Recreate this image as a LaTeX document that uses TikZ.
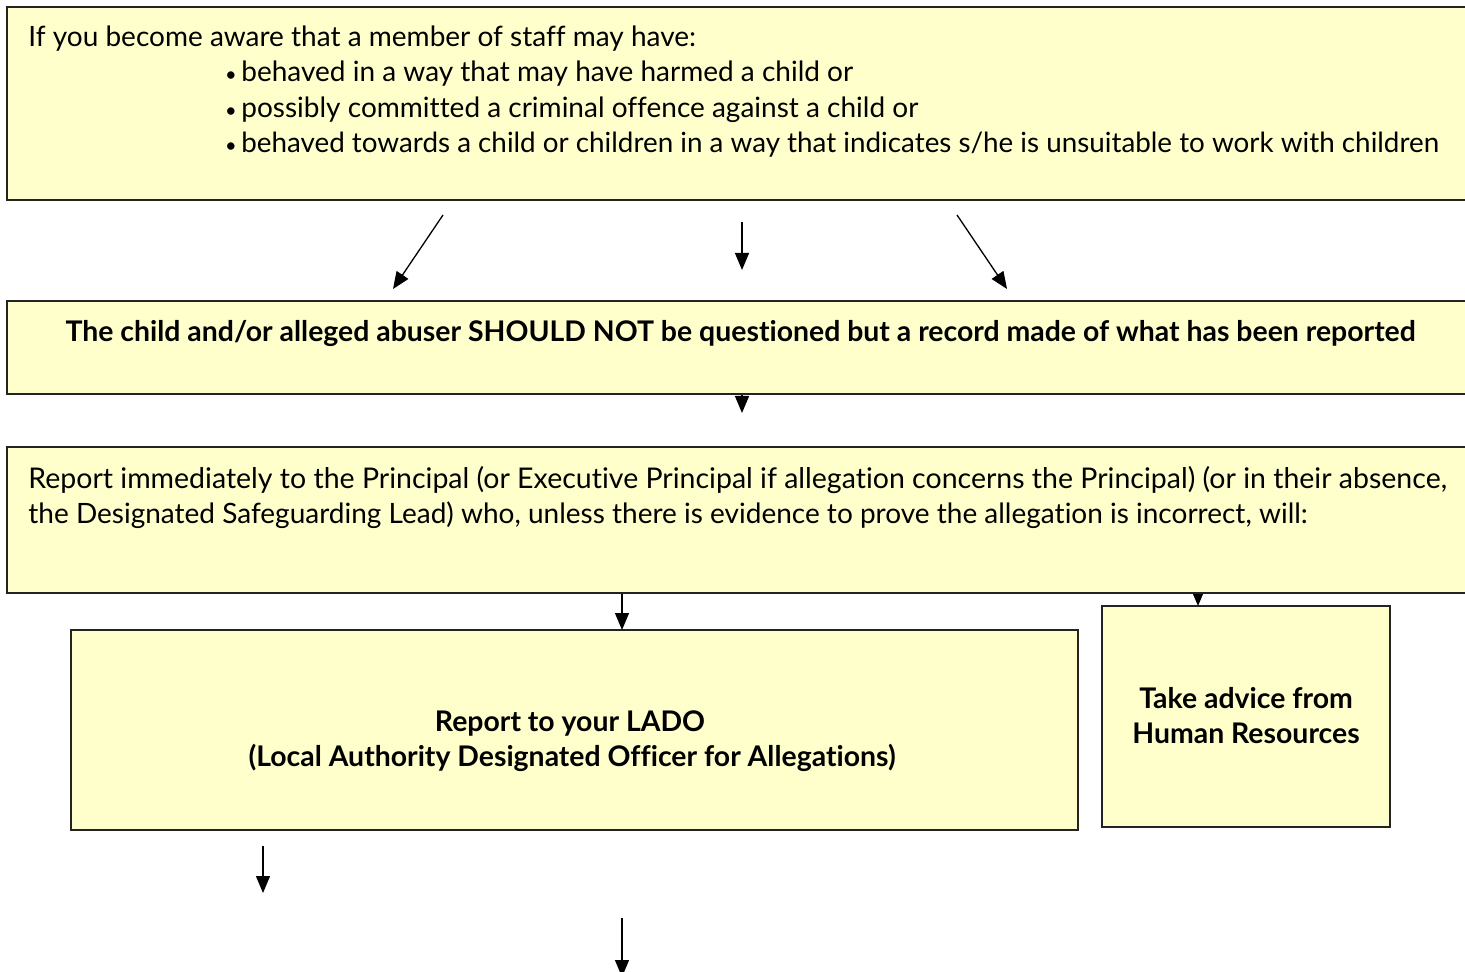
\documentclass[tikz,border=0pt]{standalone}
\usepackage{fontspec}
\setmainfont{Lato}[Ligatures=NoCommon]
\usetikzlibrary{arrows.meta}
\definecolor{boxfill}{RGB}{255,255,204}
\definecolor{boxline}{RGB}{35,35,35}
\begin{document}
\begin{tikzpicture}[x=0.5pt,y=-0.5pt,
  box/.style={draw=boxline, fill=boxfill, line width=0.9pt, inner sep=0pt, outer sep=0pt, anchor=north west},
  txt/.style={inner sep=0pt, font=\fontsize{14}{16}\selectfont},
  btxt/.style={inner sep=0pt, font=\fontsize{14.2}{16}\selectfont\bfseries},
  bul/.style={inner sep=0pt, font=\fontsize{10}{12}\selectfont},
  arr/.style={line width=0.65pt, -{Triangle[length=8.5pt,width=7pt]}}]
\useasboundingbox (0,0) rectangle (1465,972);
\clip (0,0) rectangle (1465,972);
% arrows drawn first so that boxes hide their ends
\coordinate (a1s) at (443,215); \coordinate (a1e) at (393,289);
\coordinate (a2s) at (742,222); \coordinate (a2e) at (742,270);
\coordinate (a3s) at (957,215); \coordinate (a3e) at (1007,289);
\coordinate (a4s) at (742,392); \coordinate (a4e) at (742,413);
\coordinate (a5s) at (622,591); \coordinate (a5e) at (622,630);
\coordinate (a6s) at (1198,588); \coordinate (a6e) at (1198,606);
\coordinate (a7s) at (263,846); \coordinate (a7e) at (263,893);
\coordinate (a8s) at (622,918); \coordinate (a8e) at (622,977);
\draw[arr] (a4s) -- (a4e);
\draw[arr] (a5s) -- (a5e);
\draw[arr] (a6s) -- (a6e);
% boxes
\node[box, minimum width=731.5pt, minimum height=96.5pt] (b1) at (7,7) {};
\node[box, minimum width=731.5pt, minimum height=46.5pt] (b2) at (7,301) {};
\node[box, minimum width=731.5pt, minimum height=73pt] (b3) at (7,447) {};
\node[box, minimum width=503.5pt, minimum height=100pt] (lado) at (71,630) {};
\node[box, minimum width=144pt, minimum height=110.5pt] (hr) at (1102,606) {};
% free-floating arrows
\draw[arr] (a1s) -- (a1e);
\draw[arr] (a2s) -- (a2e);
\draw[arr] (a3s) -- (a3e);
\draw[arr] (a7s) -- (a7e);
\draw[arr] (a8s) -- (a8e);
% texts
\node[txt, anchor=base west] (t1a) at (28,46.5) {If you become aware that a member of staff may have:};
\node[bul, anchor=base] (u1) at (231,82) {•};
\node[txt, anchor=base west] (t1b) at (241,82) {behaved in a way that may have harmed a child or};
\node[bul, anchor=base] (u2) at (231,117.5) {•};
\node[txt, anchor=base west] (t1c) at (241,117.5) {possibly committed a criminal offence against a child or};
\node[bul, anchor=base] (u3) at (231,153) {•};
\node[txt, anchor=base west, font=\fontsize{13.9}{16}\selectfont] (t1d) at (241,153) {behaved towards a child or children in a way that indicates s/he is unsuitable to work with children};
\node[btxt, anchor=base] (t2) at (740.5,342) {The child and/or alleged abuser SHOULD NOT be questioned but a record made of what has been reported};
\node[txt, anchor=base west, font=\fontsize{14.25}{16}\selectfont] (t3a) at (28,488.5) {Report immediately to the Principal (or Executive Principal if allegation concerns the Principal) (or in their absence,};
\node[txt, anchor=base west] (t3b) at (28,523.5) {the Designated Safeguarding Lead) who, unless there is evidence to prove the allegation is incorrect, will:};
\node[btxt, anchor=base] (t4a) at (570,731) {Report to your LADO};
\node[btxt, anchor=base] (t4b) at (572,766) {(Local Authority Designated Officer for Allegations)};
\node[btxt, anchor=base] (t5a) at (1246,708) {Take advice from};
\node[btxt, anchor=base] (t5b) at (1246,743) {Human Resources};
\end{tikzpicture}
\end{document}
